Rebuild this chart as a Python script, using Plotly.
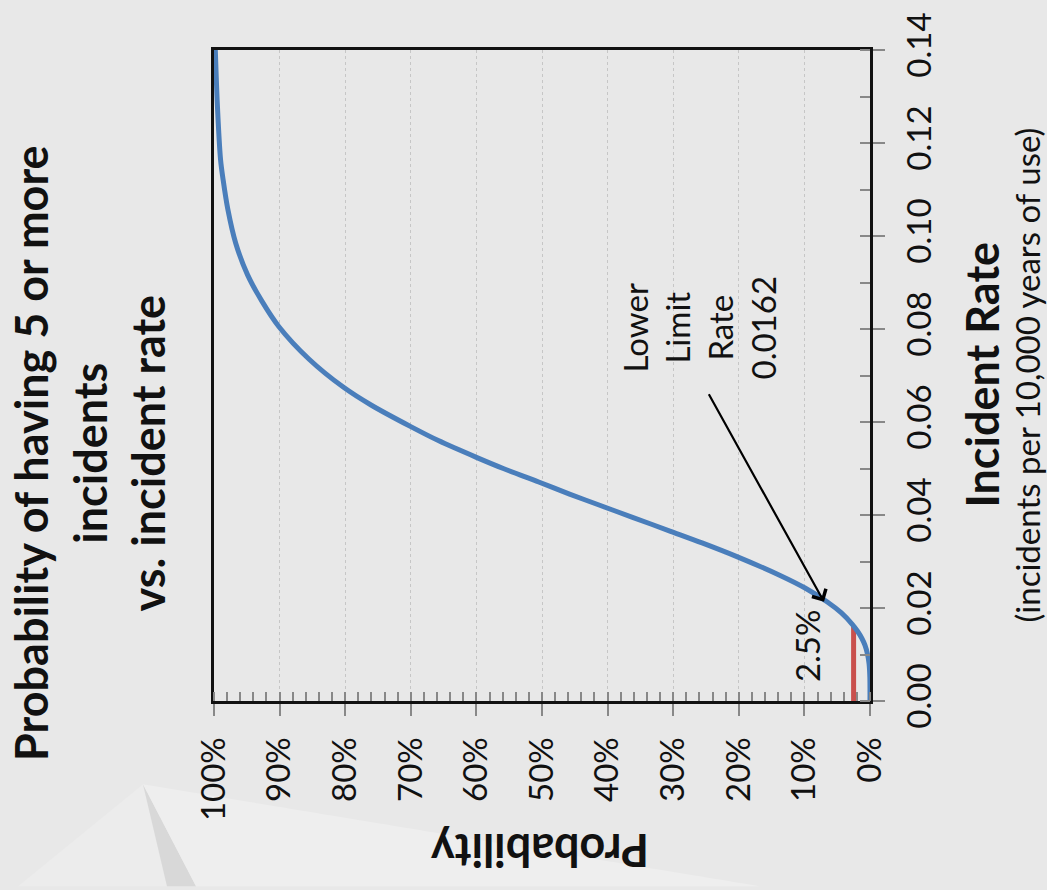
import plotly.graph_objects as go

# ---- data (rate per 10,000 years of use, probability) ----
RATE = [0.0, 0.005, 0.008, 0.010, 0.012, 0.0135, 0.015, 0.0165, 0.019, 0.0213,
        0.0243, 0.027, 0.031, 0.034, 0.0365, 0.0395, 0.0421, 0.0445, 0.0471,
        0.050, 0.0524, 0.056, 0.059, 0.0636, 0.0674, 0.0735, 0.0805, 0.086,
        0.0917, 0.0985, 0.1058, 0.112, 0.1164, 0.1286, 0.14]
PROB = [0.0, 0.0002, 0.0014, 0.0037, 0.0077, 0.0125, 0.019, 0.027, 0.044, 0.065,
        0.099, 0.137, 0.202, 0.256, 0.304, 0.362, 0.412, 0.458, 0.505,
        0.559, 0.600, 0.658, 0.700, 0.760, 0.802, 0.855, 0.901, 0.927,
        0.949, 0.967, 0.979, 0.986, 0.990, 0.995, 0.998]

LOWER_LIMIT_RATE = 0.0162
LOWER_LIMIT_PROB = 0.025
LIMIT_LINE_RATE = [0.0, LOWER_LIMIT_RATE]
LIMIT_LINE_PROB = [LOWER_LIMIT_PROB, LOWER_LIMIT_PROB]

PROB_TICKS = [i / 10 for i in range(11)]
PROB_TICK_TEXT = [f"{i * 10}%" for i in range(11)]
RATE_TICKS = [0.0, 0.02, 0.04, 0.06, 0.08, 0.10, 0.12, 0.14]

TITLE = "Probability of having 5 or more<br>incidents<br>vs. incident rate"
X_TITLE = "Incident Rate"
X_SUBTITLE = "(incidents per 10,000 years of use)"
Y_TITLE = "Probability"

# ---- layout geometry (pixels) ----
W, H = 1047, 890
L, R, T, B = 214, 870, 37, 701


def px(xp, yp):
    return (xp - L) / (R - L), (B - yp) / (B - T)


BG = "#e8e8e8"
FONT = "Lato, 'Open Sans', sans-serif"

fig = go.Figure()
fig.add_trace(go.Scatter(x=LIMIT_LINE_PROB, y=LIMIT_LINE_RATE, mode="lines",
                         line=dict(color="#c9504d", width=5), hoverinfo="skip"))
fig.add_trace(go.Scatter(x=PROB, y=RATE, mode="lines", line_shape="spline",
                         line=dict(color="#4a7ebb", width=5, smoothing=0.8), hoverinfo="skip"))


def note(xp, yp, text, size, angle, bold=False):
    x, y = px(xp, yp)
    return dict(x=x, y=y, xref="paper", yref="paper", text=text, showarrow=False,
                textangle=angle, xanchor="center", yanchor="middle",
                font=dict(family=FONT, size=size, color="#111",
                          weight="bold" if bold else "normal"))


annotations = [
    note(90, 448, TITLE, 45, -90, bold=True),
    note(982, 368, X_TITLE, 45, -90, bold=True),
    note(1026, 369, X_SUBTITLE, 33, -90),
    note(540, 854, Y_TITLE, 45, 180, bold=True),
    note(699, 320, f"Lower<br>Limit<br>Rate<br>{LOWER_LIMIT_RATE}", 33, -90),
    note(807, 645, f"{LOWER_LIMIT_PROB * 100:.1f}%", 33, -90),
    # arrow pointing at the curve
    dict(x=0.0701, y=0.02133, xref="x", yref="y", text="",
         showarrow=True, arrowhead=4, arrowsize=1.4, arrowwidth=2.2,
         arrowcolor="#000", ax=-116, ay=-209, standoff=0),
]

# decorative pyramid in bottom-left corner
shapes = []


def poly(points, color):
    pts = [px(a, b) for a, b in points]
    path = "M " + " L ".join(f"{x},{y}" for x, y in pts) + " Z"
    return dict(type="path", path=path, xref="paper", yref="paper",
                fillcolor=color, line=dict(width=0), layer="below")


shapes.append(poly([(143, 786), (18, 890), (167, 890)], "#ececec"))
shapes.append(poly([(143, 786), (167, 890), (196, 890)], "#d8d8d8"))
shapes.append(poly([(143, 786), (196, 890), (760, 890)], "#eeeeee"))

fig.update_layout(
    width=W, height=H,
    margin=dict(l=L, r=W - R, t=T, b=H - B, pad=0),
    paper_bgcolor=BG, plot_bgcolor=BG,
    showlegend=False,
    annotations=annotations,
    shapes=shapes,
    font=dict(family=FONT, size=33, color="#111"),
)
fig.update_xaxes(
    range=[1, 0], tickvals=PROB_TICKS, ticktext=PROB_TICK_TEXT, tickangle=-90,
    showgrid=True, gridcolor="#c6c6c6", griddash="3px,3px", gridwidth=1,
    zeroline=False, showline=True, linecolor="#111", linewidth=3, mirror=True,
    ticks="outside", ticklen=12, tickwidth=2, tickcolor="#888",
    ticklabelstandoff=8, ticklabeloverflow="allow",
    minor=dict(dtick=0.02, ticks="inside", ticklen=9, tickwidth=2, tickcolor="#888", showgrid=False),
    tickfont=dict(family=FONT, size=33, color="#111"),
)
fig.update_yaxes(
    range=[0, 0.14], tickvals=RATE_TICKS, tickformat=".2f", side="right", tickangle=-90,
    showgrid=False, zeroline=False, showline=True, linecolor="#111", linewidth=3, mirror=True,
    ticks="outside", ticklen=12, tickwidth=2, tickcolor="#888",
    ticklabelstandoff=6, ticklabeloverflow="allow",
    minor=dict(dtick=0.01, ticks="inside", ticklen=10, tickwidth=2, tickcolor="#888", showgrid=False),
    tickfont=dict(family=FONT, size=33, color="#111"),
)

fig.write_html("out.html", config={"displayModeBar": False},
               post_script="document.body.style.margin='0';")
